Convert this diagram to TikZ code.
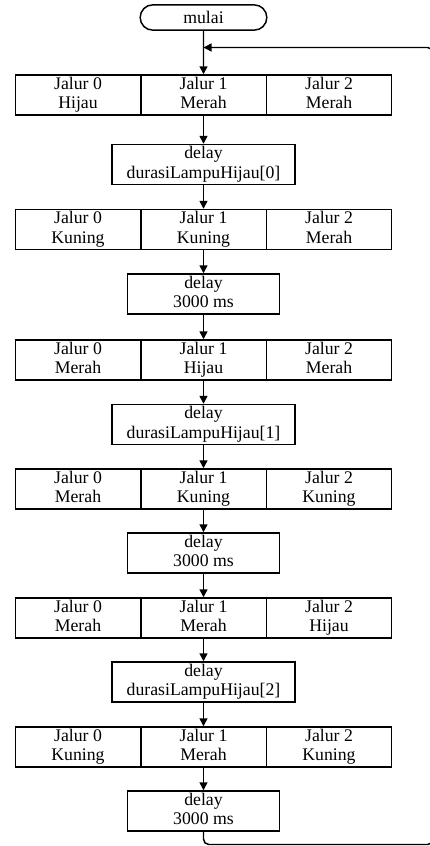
\documentclass[tikz,border=0pt]{standalone}
\usepackage{fontspec}
\setmainfont{Liberation Serif}
\usetikzlibrary{arrows.meta,shapes.misc}
\newcommand{\twolines}[2]{\strut #1\\#2\strut}
\tikzset{
  cell/.style={draw,minimum width=94.1pt,minimum height=30pt,inner sep=0pt,
    align=center,font=\fontsize{13.3}{14.5}\selectfont},
  longdelay/.style={cell,minimum width=137pt},
  shortdelay/.style={cell,minimum width=114pt},
  terminal/.style={cell,rounded rectangle,minimum width=95pt,minimum height=19pt},
  flow/.style={-{Triangle[length=6pt,width=6pt]}}
}
\begin{document}
\begin{tikzpicture}[x=0.75pt,y=-0.75pt,line width=1.1pt]
      \useasboundingbox (0,0) rectangle (429,846);
      \draw
        (203.5,17.5) node[terminal] (mulai){mulai}
        (78,95) node[cell] (r0a){\twolines{Jalur 0}{Hijau}}
        (203.5,95) node[cell] (r0b){\twolines{Jalur 1}{Merah}}
        (329,95) node[cell] (r0c){\twolines{Jalur 2}{Merah}}
        (203.5,164.5) node[longdelay] (d0){\twolines{delay}{durasiLampuHijau[0]}}
        (78,229.5) node[cell] (r1a){\twolines{Jalur 0}{Kuning}}
        (203.5,229.5) node[cell] (r1b){\twolines{Jalur 1}{Kuning}}
        (329,229.5) node[cell] (r1c){\twolines{Jalur 2}{Merah}}
        (203.5,294) node[shortdelay] (d1){\twolines{delay}{3000 ms}}
        (78,360) node[cell] (r2a){\twolines{Jalur 0}{Merah}}
        (203.5,360) node[cell] (r2b){\twolines{Jalur 1}{Hijau}}
        (329,360) node[cell] (r2c){\twolines{Jalur 2}{Merah}}
        (203.5,424.5) node[longdelay] (d2){\twolines{delay}{durasiLampuHijau[1]}}
        (78,489) node[cell] (r3a){\twolines{Jalur 0}{Merah}}
        (203.5,489) node[cell] (r3b){\twolines{Jalur 1}{Kuning}}
        (329,489) node[cell] (r3c){\twolines{Jalur 2}{Kuning}}
        (203.5,553) node[shortdelay] (d3){\twolines{delay}{3000 ms}}
        (78,618) node[cell] (r4a){\twolines{Jalur 0}{Merah}}
        (203.5,618) node[cell] (r4b){\twolines{Jalur 1}{Merah}}
        (329,618) node[cell] (r4c){\twolines{Jalur 2}{Hijau}}
        (203.5,682) node[longdelay] (d4){\twolines{delay}{durasiLampuHijau[2]}}
        (78,747) node[cell] (r5a){\twolines{Jalur 0}{Kuning}}
        (203.5,747) node[cell] (r5b){\twolines{Jalur 1}{Merah}}
        (329,747) node[cell] (r5c){\twolines{Jalur 2}{Kuning}}
        (203.5,811) node[shortdelay] (d5){\twolines{delay}{3000 ms}};
      \coordinate (join) at (203.5,47.5);
      \coordinate (corner) at (433,844.5);
      \begin{scope}[flow]
        \draw (mulai) to (r0b);
        \draw (r0b) to (d0);
        \draw (d0) to (r1b);
        \draw (r1b) to (d1);
        \draw (d1) to (r2b);
        \draw (r2b) to (d2);
        \draw (d2) to (r3b);
        \draw (r3b) to (d3);
        \draw (d3) to (r4b);
        \draw (r4b) to (d4);
        \draw (d4) to (r5b);
        \draw (r5b) to (d5);
        \draw[rounded corners=4pt] (d5.south) |- (corner) |- (join);
      \end{scope}
    \end{tikzpicture}
\end{document}
